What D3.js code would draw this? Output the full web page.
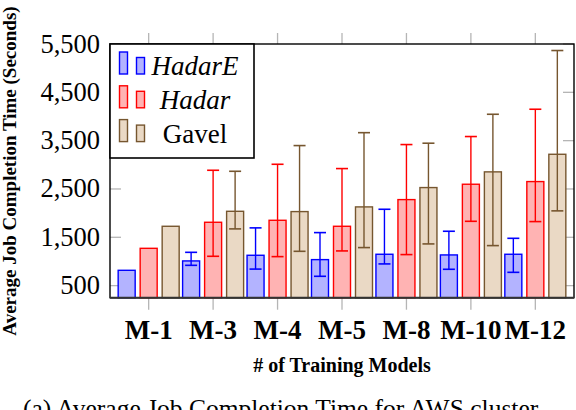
<!DOCTYPE html>
<html>
<head>
<meta charset="utf-8">
<script src="https://cdn.jsdelivr.net/npm/d3@7"></script>
<style>
  body { margin: 0; background: #fff; }
  svg text { font-family: "Liberation Serif", "Times New Roman", serif; }
</style>
</head>
<body>
<svg id="canvas" width="576" height="410"></svg>
<script>
const categories = ['M-1', 'M-3', 'M-4', 'M-5', 'M-8', 'M-10', 'M-12'];
const yTicks = [500, 1500, 2500, 3500, 4500, 5500];

const hadarE   = [817, 1011, 1128, 1038, 1149, 1135, 1149];
const hadarELo = [null, 920, 842, 693, 949, 838, 775];
const hadarEHi = [null, 1189, 1695, 1597, 2080, 1625, 1479];

const hadar   = [1272, 1811, 1852, 1728, 2280, 2598, 2653];
const hadarLo = [null, 1107, 1100, 1218, 1142, 1831, 1825];
const hadarHi = [null, 2887, 3011, 2922, 3419, 3585, 4150];

const gavel   = [1728, 2038, 2032, 2129, 2529, 2854, 3218];
const gavelLo = [null, 1674, 1210, 1287, 1363, 1328, 2047];
const gavelHi = [null, 2866, 3398, 3665, 3447, 4046, 5365];

const seriesNames = ['HadarE', 'Hadar', 'Gavel'];

const series = [
	{ name: 'HadarE', vals: hadarE, lo: hadarELo, hi: hadarEHi, fill: '#b3b3ff', stroke: '#0000ff', italic: true },
	{ name: 'Hadar',  vals: hadar,  lo: hadarLo,  hi: hadarHi,  fill: '#ffb3b3', stroke: '#ff0000', italic: true },
	{ name: 'Gavel',  vals: gavel,  lo: gavelLo,  hi: gavelHi,  fill: '#ead9c5', stroke: '#76562f', italic: false }
];

const L = 110, R = 574, T = 44, B = 297.7;
const svg = d3.select('#canvas');

const x = d3.scalePoint().domain(categories).range([L, R]).padding(0.6);
const xs = d3.scaleBand().domain(seriesNames).range([-33, 33]).paddingInner(0.227).paddingOuter(0.1135);
const y = d3.scaleLinear().domain([250, 5500]).range([B, T]);

// gray tick marks
const tickG = svg.append('g').attr('stroke', '#b5b5b5').attr('stroke-width', 1.3);
tickG.selectAll('.xb').data(categories).enter().append('line')
	.attr('x1', d => x(d)).attr('x2', d => x(d)).attr('y1', B).attr('y2', B + 12);
tickG.selectAll('.xt').data(categories).enter().append('line')
	.attr('x1', d => x(d)).attr('x2', d => x(d)).attr('y1', T).attr('y2', T - 11);
tickG.selectAll('.yl').data(yTicks).enter().append('line')
	.attr('x1', L).attr('x2', L + 11).attr('y1', d => y(d)).attr('y2', d => y(d));
tickG.selectAll('.yr').data(yTicks).enter().append('line')
	.attr('x1', R).attr('x2', R - 11).attr('y1', d => y(d)).attr('y2', d => y(d));

// bars
series.forEach(s => {
	const g = svg.append('g');
	g.selectAll('rect').data(categories).enter().append('rect')
		.attr('x', d => x(d) + xs(s.name))
		.attr('y', (d, i) => y(s.vals[i]))
		.attr('width', xs.bandwidth())
		.attr('height', (d, i) => y(250) - y(s.vals[i]))
		.attr('fill', s.fill)
		.attr('stroke', s.stroke)
		.attr('stroke-width', 1.4);

	const errs = categories.map((c, i) => ({ c, lo: s.lo[i], hi: s.hi[i] })).filter(e => e.lo !== null);
	const cx = e => x(e.c) + xs(s.name) + xs.bandwidth() / 2;
	g.selectAll('.ev').data(errs).enter().append('line')
		.attr('x1', cx).attr('x2', cx)
		.attr('y1', e => y(e.lo)).attr('y2', e => y(e.hi))
		.attr('stroke', s.stroke).attr('stroke-width', 1.4);
	[ 'lo', 'hi' ].forEach(k => {
		g.selectAll('.c' + k).data(errs).enter().append('line')
			.attr('x1', e => cx(e) - 6).attr('x2', e => cx(e) + 6)
			.attr('y1', e => y(e[k])).attr('y2', e => y(e[k]))
			.attr('stroke', s.stroke).attr('stroke-width', 1.6);
	});
});

// frame
svg.append('rect').attr('x', L).attr('y', T).attr('width', R - L).attr('height', B - T)
	.attr('fill', 'none').attr('stroke', '#000').attr('stroke-width', 1.4);
svg.append('line').attr('x1', L).attr('x2', R).attr('y1', B).attr('y2', B)
	.attr('stroke', '#333').attr('stroke-width', 2);

// y tick labels
svg.selectAll('.ylab').data(yTicks).enter().append('text')
	.attr('x', 100).attr('y', d => y(d) + 8.5)
	.attr('text-anchor', 'end').attr('font-size', 26.5)
	.text(d => d3.format(',')(d));

// x tick labels
svg.selectAll('.xlab').data(categories).enter().append('text')
	.attr('x', d => x(d)).attr('y', 339)
	.attr('text-anchor', 'middle').attr('font-size', 27).attr('font-weight', 'bold')
	.text(d => d);

// axis titles
svg.append('text').attr('x', 342).attr('y', 371.5)
	.attr('text-anchor', 'middle').attr('font-size', 20).attr('font-weight', 'bold')
	.text('# of Training Models');
svg.append('text').attr('transform', 'translate(16,171) rotate(-90)')
	.attr('text-anchor', 'middle').attr('font-size', 19).attr('font-weight', 'bold')
	.text('Average Job Completion Time (Seconds)');

// legend
const lg = svg.append('g');
lg.append('rect').attr('x', L).attr('y', T).attr('width', 144).attr('height', 114)
	.attr('fill', '#fff').attr('stroke', '#000').attr('stroke-width', 1.6);
series.forEach((s, i) => {
	const base = 75 + i * 33.8;
	lg.append('rect').attr('x', 119.5).attr('y', base - 23).attr('width', 8).attr('height', 22)
		.attr('fill', s.fill).attr('stroke', s.stroke).attr('stroke-width', 1.4);
	lg.append('rect').attr('x', 136.5).attr('y', base - 17.5).attr('width', 8).attr('height', 16.5)
		.attr('fill', s.fill).attr('stroke', s.stroke).attr('stroke-width', 1.4);
	lg.append('text').attr('x', 195).attr('y', base)
		.attr('text-anchor', 'middle').attr('font-size', 27)
		.attr('font-style', s.italic ? 'italic' : 'normal')
		.text(s.name);
});

// caption (cut off at the bottom edge, as in the source figure)
svg.append('text').attr('x', 23).attr('y', 417)
	.attr('font-size', 25.5)
	.text('(a) Average Job Completion Time for AWS cluster');
</script>
</body>
</html>
